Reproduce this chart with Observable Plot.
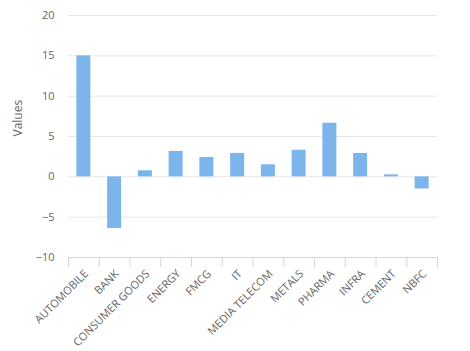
<!DOCTYPE html>
<html>
<head>
<meta charset="utf-8">
<script src="https://cdn.jsdelivr.net/npm/d3@7"></script>
<script src="https://cdn.jsdelivr.net/npm/@observablehq/plot@0.6"></script>
<style>
  html, body { margin: 0; padding: 0; background: #fff; }
  svg { display: block; }
</style>
</head>
<body>
<div id="chart"></div>
<script>
const categories = ["AUTOMOBILE", "BANK", "CONSUMER GOODS", "ENERGY", "FMCG", "IT", "MEDIA TELECOM", "METALS", "PHARMA", "INFRA", "CEMENT", "NBFC"];
const values = [15.0, -6.4, 0.75, 3.15, 2.4, 2.9, 1.5, 3.3, 6.65, 2.9, 0.25, -1.5];
const yTicks = [-10, -5, 0, 5, 10, 15, 20];
const yLabel = "Values";

const data = categories.map((c, i) => ({category: c, value: values[i]}));

const W = 470, H = 351;
const mL = 68, mR = 33, mT = 15, mB = 94;
const step = (W - mL - mR) / categories.length;
const inset = (step - 14) / 2;
const font = "'Open Sans', sans-serif";

const chart = Plot.plot({
  width: W,
  height: H,
  marginLeft: mL,
  marginRight: mR,
  marginTop: mT,
  marginBottom: mB,
  style: {fontFamily: font, background: "#fff"},
  x: {domain: categories, padding: 0, round: false, axis: null, label: null},
  y: {domain: [-10, 20], axis: null, label: null},
  marks: [
    Plot.gridY(yTicks.filter(t => t !== -10), {stroke: "#e6e6e6", strokeOpacity: 1}),
    Plot.barY(data, {x: "category", y: "value", fill: "#7cb5ec", insetLeft: inset, insetRight: inset}),
    Plot.ruleY([-10], {stroke: "#ccd6eb"}),
    Plot.axisX({tickSize: 10, tickFormat: () => "", label: null, dx: -step / 2, stroke: "#ccd6eb", strokeOpacity: 1}),
    Plot.axisX({ticks: [categories[categories.length - 1]], tickSize: 10, tickFormat: () => "", label: null, dx: step / 2, stroke: "#ccd6eb", strokeOpacity: 1}),
    Plot.text(data, {x: "category", y: () => -10, text: "category", rotate: -45, textAnchor: "end", lineAnchor: "bottom", dx: 5, dy: 17, fontSize: 11, fill: "#666666"}),
    Plot.axisY({ticks: yTicks, tickSize: 0, tickPadding: 14, fontSize: 11, fill: "#666666", label: null}),
    Plot.text([yLabel], {frameAnchor: "left", rotate: -90, dx: -50, fontSize: 12, fill: "#666666"})
  ]
});
document.getElementById("chart").appendChild(chart);
</script>
</body>
</html>
